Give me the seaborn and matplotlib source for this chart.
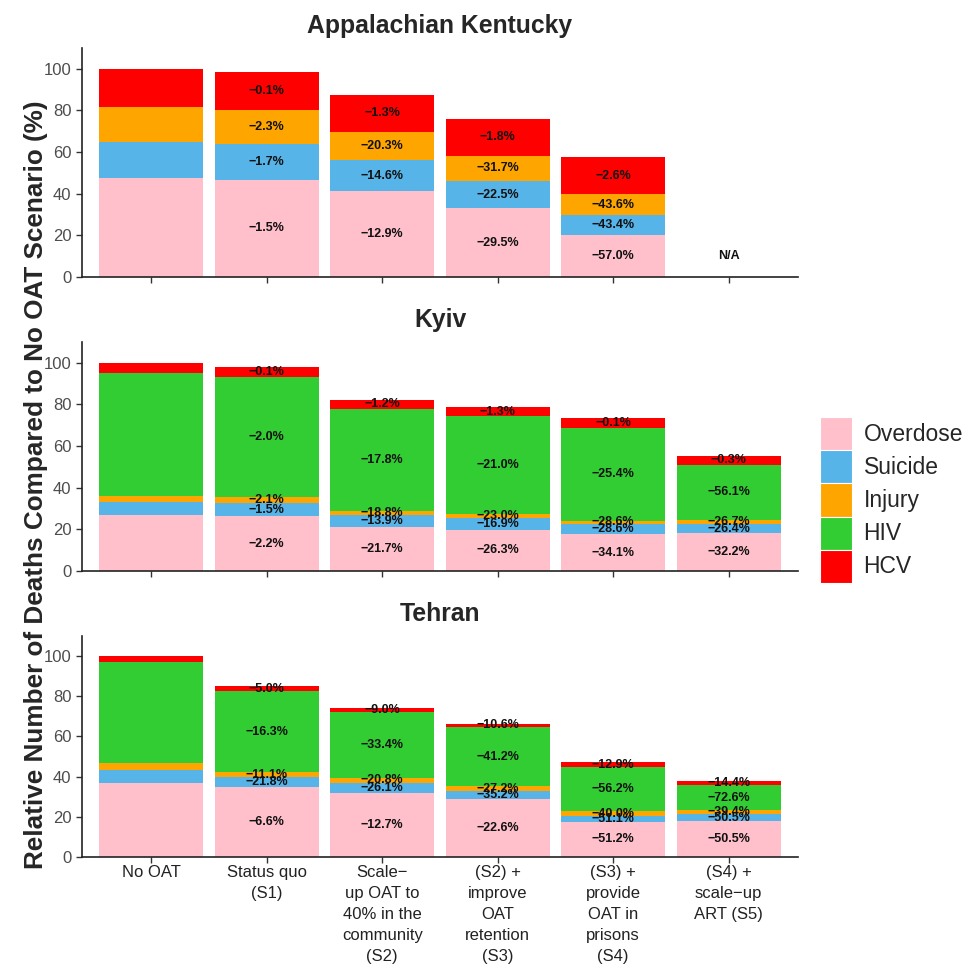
import matplotlib
matplotlib.use("Agg")
import matplotlib.pyplot as plt
from matplotlib.patches import Patch
import seaborn as sns
import pandas as pd

sns.set_style("ticks")
plt.rcParams['font.family'] = ['Liberation Sans', 'DejaVu Sans']

scenarios = ["No OAT", "Status quo\n(S1)", "Scale\u2212\nup OAT to\n40% in the\ncommunity\n(S2)",
             "(S2) +\nimprove\nOAT\nretention\n(S3)", "(S3) +\nprovide\nOAT in\nprisons\n(S4)",
             "(S4) +\nscale\u2212up\nART (S5)"]
causes = ["Overdose", "Suicide", "Injury", "HIV", "HCV"]
colors = ["#FFC0CB", "#56B4E9", "#FFA500", "#32CD32", "#FF0000"]

# Appalachian Kentucky (no HIV, no S5)
ky_overdose = [47.5, 46.8, 41.3, 33.0, 20.4]
ky_suicide = [17.3, 17.0, 14.8, 13.2, 9.5]
ky_injury = [16.8, 16.5, 13.5, 12.0, 9.8]
ky_hiv = [0, 0, 0, 0, 0]
ky_hcv = [18.4, 18.2, 17.9, 17.9, 17.9]
ky_lab_overdose = ["", "-1.5%", "-12.9%", "-29.5%", "-57.0%"]
ky_lab_suicide = ["", "-1.7%", "-14.6%", "-22.5%", "-43.4%"]
ky_lab_injury = ["", "-2.3%", "-20.3%", "-31.7%", "-43.6%"]
ky_lab_hiv = ["", "", "", "", ""]
ky_lab_hcv = ["", "-0.1%", "-1.3%", "-1.8%", "-2.6%"]

# Kyiv
kv_overdose = [26.9, 26.2, 21.1, 19.8, 17.6, 18.1]
kv_suicide = [6.4, 6.4, 5.6, 5.6, 4.9, 4.6]
kv_injury = [2.9, 2.8, 2.3, 2.1, 1.7, 2.0]
kv_hiv = [59.0, 57.7, 49.0, 46.8, 44.5, 26.2]
kv_hcv = [4.5, 5.0, 4.3, 4.4, 5.0, 4.5]
kv_lab_overdose = ["", "-2.2%", "-21.7%", "-26.3%", "-34.1%", "-32.2%"]
kv_lab_suicide = ["", "-1.5%", "-13.9%", "-16.9%", "-28.6%", "-26.4%"]
kv_lab_injury = ["", "-2.1%", "-18.8%", "-23.0%", "-28.6%", "-26.7%"]
kv_lab_hiv = ["", "-2.0%", "-17.8%", "-21.0%", "-25.4%", "-56.1%"]
kv_lab_hcv = ["", "-0.1%", "-1.2%", "-1.3%", "-0.1%", "-0.3%"]

# Tehran
th_overdose = [37.0, 34.8, 32.0, 28.8, 17.6, 18.0]
th_suicide = [6.2, 5.0, 5.0, 4.0, 3.0, 3.2]
th_injury = [3.6, 2.4, 2.3, 2.3, 2.1, 2.0]
th_hiv = [50.5, 40.4, 32.9, 29.8, 22.1, 12.6]
th_hcv = [2.5, 2.3, 2.1, 1.5, 2.3, 2.2]
th_lab_overdose = ["", "-6.6%", "-12.7%", "-22.6%", "-51.2%", "-50.5%"]
th_lab_suicide = ["", "-21.8%", "-26.1%", "-35.2%", "-51.1%", "-50.5%"]
th_lab_injury = ["", "-11.1%", "-20.8%", "-27.2%", "-40.0%", "-39.4%"]
th_lab_hiv = ["", "-16.3%", "-33.4%", "-41.2%", "-56.2%", "-72.6%"]
th_lab_hcv = ["", "-5.0%", "-9.0%", "-10.6%", "-12.9%", "-14.4%"]


def make_df(vals, labs):
    rows = []
    n = len(vals[0])
    for i in range(n):
        bottom = 0.0
        for c, v, l in zip(causes, vals, labs):
            rows.append(dict(scenario=scenarios[i], cause=c, value=v[i], bottom=bottom,
                             label=l[i].replace("-", "\u2212")))
            bottom += v[i]
    return pd.DataFrame(rows)


panels = [
    ("Appalachian Kentucky",
     make_df([ky_overdose, ky_suicide, ky_injury, ky_hiv, ky_hcv],
             [ky_lab_overdose, ky_lab_suicide, ky_lab_injury, ky_lab_hiv, ky_lab_hcv]),
     [82 / 969, 1 - 277 / 971, 716 / 969, 229 / 971]),
    ("Kyiv",
     make_df([kv_overdose, kv_suicide, kv_injury, kv_hiv, kv_hcv],
             [kv_lab_overdose, kv_lab_suicide, kv_lab_injury, kv_lab_hiv, kv_lab_hcv]),
     [82 / 969, 1 - 571 / 971, 716 / 969, 229 / 971]),
    ("Tehran",
     make_df([th_overdose, th_suicide, th_injury, th_hiv, th_hcv],
             [th_lab_overdose, th_lab_suicide, th_lab_injury, th_lab_hiv, th_lab_hcv]),
     [82 / 969, 1 - 857 / 971, 716 / 969, 221 / 971]),
]

fig = plt.figure(figsize=(9.69, 9.71), dpi=100)

for k, (title, df, rect) in enumerate(panels):
    ax = fig.add_axes(rect)
    for c, col in zip(causes, colors):
        sub = df[(df.cause == c) & (df.value > 0)]
        if len(sub) == 0:
            continue
        sns.barplot(data=sub, x="scenario", y="value", order=scenarios, bottom=sub["bottom"].values,
                    color=col, saturation=1, width=0.9, edgecolor="none", linewidth=0, ax=ax,
                    errorbar=None)
        for _, r in sub.iterrows():
            if r["label"]:
                ax.text(scenarios.index(r["scenario"]), r["bottom"] + r["value"] / 2, r["label"],
                        ha="center", va="center", fontsize=9, fontweight="bold", color="#111111")
    if title == "Appalachian Kentucky":
        ax.text(5, 10, "N/A", ha="center", va="center", fontsize=9, fontweight="bold", color="#111111")
    ax.set_xlim(-0.6, 5.6)
    ax.set_ylim(0, 110)
    ax.set_yticks([0, 20, 40, 60, 80, 100])
    ax.set_title(title, fontsize=17.8, fontweight="bold", pad=11)
    ax.set_xlabel("")
    ax.set_ylabel("")
    ax.tick_params(axis="both", length=4, width=1, color="#333333", labelsize=12, labelcolor="#4D4D4D")
    if k < 2:
        ax.set_xticklabels([])
    else:
        ax.tick_params(axis="x", labelcolor="#222222", pad=2)
        for t in ax.get_xticklabels():
            t.set_linespacing(1.5)
    for s in ["left", "bottom"]:
        ax.spines[s].set_color("#222222")
        ax.spines[s].set_linewidth(1.2)
    sns.despine(ax=ax)

fig.text(36 / 969, 1 - 485 / 971, "Relative Number of Deaths Compared to No OAT Scenario (%)", rotation=90,
         ha="center", va="center", fontsize=18.8, fontweight="bold")

handles = [Patch(facecolor=col, edgecolor="white", linewidth=0.8) for col in colors]
fig.legend(handles, causes, loc="center left", bbox_to_anchor=(820 / 969, 1 - 500 / 971),
           frameon=False, fontsize=16.5, handlelength=1.4, handleheight=1.84, labelspacing=0.0,
           handletextpad=0.5, borderaxespad=0, borderpad=0)

fig.savefig("out.png", dpi=100)
